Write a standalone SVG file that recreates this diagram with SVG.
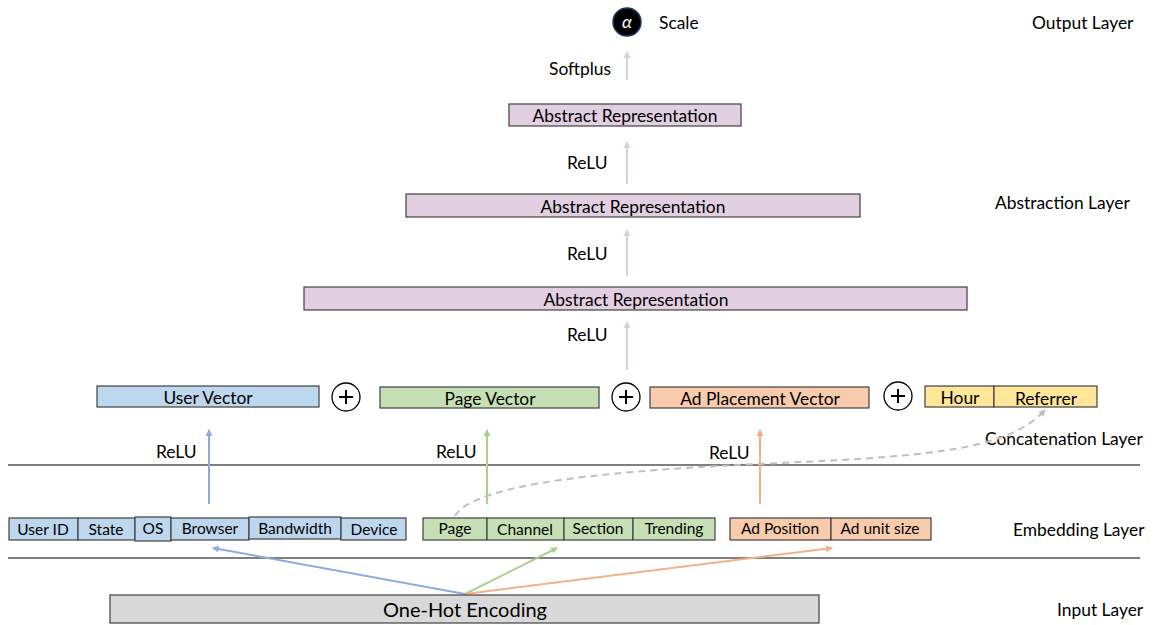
<svg xmlns="http://www.w3.org/2000/svg" width="1155" height="625" viewBox="0 0 1155 625">
  <style>
    text { font-family: Lato, "Liberation Sans", sans-serif; fill: #000; dominant-baseline: central; }
    .mid { text-anchor: middle; }
    .lbl { font-size: 17.4px; }
    .sm { font-size: 15.5px; }
    .box { stroke: #404040; stroke-width: 1.2; }
    .abs { fill: #e2cfe2; }
    .blue { fill: #bdd7ee; }
    .green { fill: #c5e0b4; }
    .orange { fill: #f8cbad; }
    .yellow { fill: #ffe699; }
    .gray { fill: #d9d9d9; }
    .plus { fill: #fff; stroke: #000; stroke-width: 1.3; }
    .sep { stroke: #000; stroke-width: 1.2; }
    .c { fill: none; stroke-width: 2; }
  </style>
  <defs>
    <marker id="ah-pink" markerWidth="8" markerHeight="8" refX="6" refY="4" orient="auto" markerUnits="userSpaceOnUse"><path d="M0,0.5 L7,4 L0,7.5 z" fill="#e0cce0"/></marker>
    <marker id="ah-blue" markerWidth="8" markerHeight="8" refX="6" refY="4" orient="auto" markerUnits="userSpaceOnUse"><path d="M0,0.5 L7,4 L0,7.5 z" fill="#8faadc"/></marker>
    <marker id="ah-green" markerWidth="8" markerHeight="8" refX="6" refY="4" orient="auto" markerUnits="userSpaceOnUse"><path d="M0,0.5 L7,4 L0,7.5 z" fill="#a9d18e"/></marker>
    <marker id="ah-orange" markerWidth="8" markerHeight="8" refX="6" refY="4" orient="auto" markerUnits="userSpaceOnUse"><path d="M0,0.5 L7,4 L0,7.5 z" fill="#f4b183"/></marker>
    <marker id="ah-gray" markerWidth="8" markerHeight="8" refX="6" refY="4" orient="auto" markerUnits="userSpaceOnUse"><path d="M0,0.5 L7,4 L0,7.5 z" fill="#bfbfbf"/></marker>
  </defs>

  <!-- layer separators -->
  <line class="sep" x1="8" y1="465" x2="1140" y2="465"/>
  <line class="sep" x1="8" y1="558" x2="1140" y2="558"/>

  <!-- layer titles -->
  <g id="layer-titles" class="lbl">
    <text x="1032" y="22">Output Layer</text>
    <text x="995" y="202">Abstraction Layer</text>
    <text x="985" y="438">Concatenation Layer</text>
    <text x="1013" y="529">Embedding Layer</text>
    <text x="1057" y="609">Input Layer</text>
  </g>

  <!-- connectors -->
  <g id="connectors">
    <line class="c" x1="627" y1="80" x2="627" y2="52" stroke="#e0cce0" marker-end="url(#ah-pink)"/>
    <line class="c" x1="627" y1="184" x2="627" y2="142" stroke="#e0cce0" marker-end="url(#ah-pink)"/>
    <line class="c" x1="627" y1="276" x2="627" y2="230" stroke="#e0cce0" marker-end="url(#ah-pink)"/>
    <line class="c" x1="627" y1="370" x2="627" y2="322" stroke="#e0cce0" marker-end="url(#ah-pink)"/>

    <line class="c" x1="209" y1="504" x2="209" y2="430" stroke="#8faadc" marker-end="url(#ah-blue)"/>
    <line class="c" x1="487" y1="504" x2="487" y2="430" stroke="#a9d18e" marker-end="url(#ah-green)"/>
    <line class="c" x1="760" y1="504" x2="760" y2="430" stroke="#f4b183" marker-end="url(#ah-orange)"/>

    <path class="c" d="M455,516 C475,482 620,470 780,463 S1010,448 1045,410" stroke="#bfbfbf" stroke-dasharray="7,5" marker-end="url(#ah-gray)"/>

    <line class="c" x1="465" y1="594" x2="213" y2="548" stroke="#8faadc" marker-end="url(#ah-blue)"/>
    <line class="c" x1="465" y1="594" x2="557" y2="548" stroke="#a9d18e" marker-end="url(#ah-green)"/>
    <line class="c" x1="465" y1="594" x2="832" y2="548" stroke="#f4b183" marker-end="url(#ah-orange)"/>
  </g>

  <!-- activation labels -->
  <g id="activations" class="lbl">
    <text x="549" y="68">Softplus</text>
    <text x="567" y="162">ReLU</text>
    <text x="567" y="253">ReLU</text>
    <text x="567" y="334">ReLU</text>
    <text x="156" y="451">ReLU</text>
    <text x="436" y="451">ReLU</text>
    <text x="709" y="452">ReLU</text>
  </g>

  <!-- output -->
  <g id="scale">
    <circle cx="627" cy="22" r="14" fill="#000" stroke="#1f3864" stroke-width="1.5"/>
    <text class="mid" x="627" y="21" font-family="'Liberation Serif', serif" font-style="italic" font-size="18" style="fill:#fff">α</text>
    <text class="lbl" x="659" y="22">Scale</text>
  </g>

  <!-- abstraction layer -->
  <g id="abstract-1">
    <rect class="box abs" x="509" y="104" width="232" height="22"/>
    <text class="lbl mid" x="625" y="115">Abstract Representation</text>
  </g>
  <g id="abstract-2">
    <rect class="box abs" x="406" y="194" width="454" height="23"/>
    <text class="lbl mid" x="633" y="206">Abstract Representation</text>
  </g>
  <g id="abstract-3">
    <rect class="box abs" x="304" y="287" width="663" height="23"/>
    <text class="lbl mid" x="636" y="299">Abstract Representation</text>
  </g>

  <!-- concatenation layer -->
  <g id="user-vector">
    <rect class="box blue" x="97" y="386" width="222" height="21"/>
    <text class="lbl mid" x="208" y="397">User Vector</text>
  </g>
  <g id="plus-1">
    <circle class="plus" cx="346" cy="397" r="14"/>
    <path d="M339,397 H353 M346,390 V404" stroke="#000" stroke-width="2"/>
  </g>
  <g id="page-vector">
    <rect class="box green" x="380" y="387" width="219" height="21"/>
    <text class="lbl mid" x="490" y="398">Page Vector</text>
  </g>
  <g id="plus-2">
    <circle class="plus" cx="626" cy="397" r="14"/>
    <path d="M619,397 H633 M626,390 V404" stroke="#000" stroke-width="2"/>
  </g>
  <g id="ad-vector">
    <rect class="box orange" x="650" y="387" width="219" height="21"/>
    <text class="lbl mid" x="760" y="398">Ad Placement Vector</text>
  </g>
  <g id="plus-3">
    <circle class="plus" cx="898" cy="396" r="14"/>
    <path d="M891,396 H905 M898,389 V403" stroke="#000" stroke-width="2"/>
  </g>
  <g id="context">
    <rect class="box yellow" x="925" y="386" width="69" height="21"/>
    <rect class="box yellow" x="994" y="386" width="103" height="21"/>
    <text class="lbl mid" x="960" y="397">Hour</text>
    <text class="lbl mid" x="1046" y="398">Referrer</text>
  </g>

  <!-- embedding layer -->
  <g id="user-features" class="sm">
    <rect class="box blue" x="9" y="518" width="69" height="22"/>
    <rect class="box blue" x="78" y="518" width="57" height="22"/>
    <rect class="box blue" x="135" y="517" width="36" height="24"/>
    <rect class="box blue" x="171" y="518" width="78" height="22"/>
    <rect class="box blue" x="249" y="517" width="92" height="22"/>
    <rect class="box blue" x="341" y="518" width="65" height="22"/>
    <text class="mid" x="43" y="529">User ID</text>
    <text class="mid" x="106" y="529">State</text>
    <text class="mid" x="153" y="528">OS</text>
    <text class="mid" x="210" y="528">Browser</text>
    <text class="mid" x="295" y="528">Bandwidth</text>
    <text class="mid" x="374" y="529">Device</text>
  </g>
  <g id="page-features" class="sm">
    <rect class="box green" x="423" y="518" width="64" height="22"/>
    <rect class="box green" x="487" y="518" width="77" height="22"/>
    <rect class="box green" x="564" y="518" width="69" height="22"/>
    <rect class="box green" x="633" y="518" width="82" height="22"/>
    <text class="mid" x="455" y="528">Page</text>
    <text class="mid" x="525" y="529">Channel</text>
    <text class="mid" x="598" y="528">Section</text>
    <text class="mid" x="674" y="528">Trending</text>
  </g>
  <g id="ad-features" class="sm">
    <rect class="box orange" x="730" y="518" width="101" height="22"/>
    <rect class="box orange" x="831" y="518" width="100" height="22"/>
    <text class="mid" x="780" y="528">Ad Position</text>
    <text class="mid" x="880" y="528">Ad unit size</text>
  </g>

  <!-- input layer -->
  <g id="one-hot">
    <rect class="box gray" x="110" y="595" width="709" height="28"/>
    <text class="mid" x="465" y="609" font-size="20">One-Hot Encoding</text>
  </g>
</svg>
